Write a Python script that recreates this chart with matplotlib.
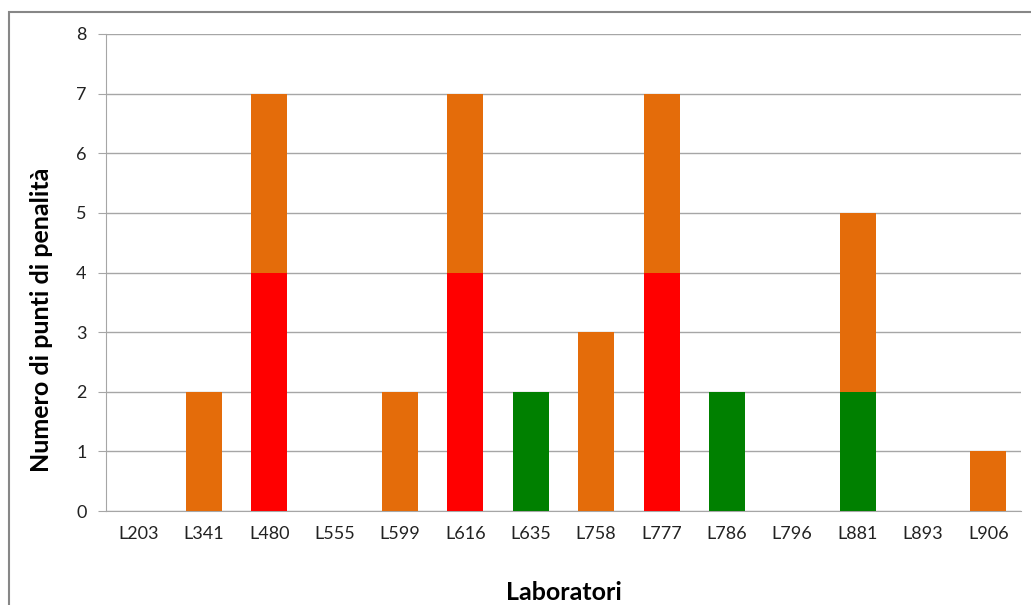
import matplotlib.pyplot as plt
import numpy as np
from matplotlib.patches import Rectangle

labs = ["L203", "L341", "L480", "L555", "L599", "L616", "L635",
        "L758", "L777", "L786", "L796", "L881", "L893", "L906"]
red_pts = [0, 0, 4, 0, 0, 4, 0, 0, 4, 0, 0, 0, 0, 0]
green_pts = [0, 0, 0, 0, 0, 0, 2, 0, 0, 2, 0, 2, 0, 0]
orange_pts = [0, 2, 3, 0, 2, 3, 0, 3, 3, 0, 0, 3, 0, 1]

plt.rcParams['font.family'] = ['Lato', 'DejaVu Sans']

fig = plt.figure(figsize=(10.31, 6.05), dpi=100)
ax = fig.add_axes([106 / 1031, 1 - 511 / 605, (1021 - 106) / 1031, (511 - 34) / 605])

x = np.arange(len(labs))
w = 0.55
bottom = np.array(red_pts) + np.array(green_pts)
ax.bar(x, red_pts, w, color="#FF0000", zorder=3)
ax.bar(x, green_pts, w, bottom=red_pts, color="#008000", zorder=3)
ax.bar(x, orange_pts, w, bottom=bottom, color="#E46C0A", zorder=3)

ax.set_xlim(-0.5, len(labs) - 0.5)
ax.set_ylim(0, 8)
ax.set_yticks(range(9))
ax.set_xticks(x)
ax.set_xticklabels(labs)
ax.grid(axis="y", color="#A6A6A6", linewidth=1, zorder=0)
for s in ["top", "right"]:
    ax.spines[s].set_visible(False)
for s in ["left", "bottom"]:
    ax.spines[s].set_color("#A6A6A6")
ax.tick_params(axis="y", length=6, color="#A6A6A6", labelsize=13, pad=8, labelcolor="#222222")
ax.tick_params(axis="x", length=0, labelsize=13, pad=11, labelcolor="#222222")

ax.set_xlabel("Laboratori", fontsize=18, fontweight="bold", va="center")
ax.set_ylabel("Numero di punti di penalità", fontsize=18, fontweight="bold", va="center")
ax.xaxis.set_label_coords(0.5, (511 - 592) / 477)
ax.yaxis.set_label_coords((42 - 106) / 915, (511 - 320) / 477)

# outer chart frame
fig.patches.append(Rectangle((9 / 1031, -0.1), 1.2, 1 - 12 / 605 + 0.1,
                             transform=fig.transFigure, fill=False,
                             edgecolor="#878787", linewidth=1.5))

fig.savefig("out.png", dpi=100)
